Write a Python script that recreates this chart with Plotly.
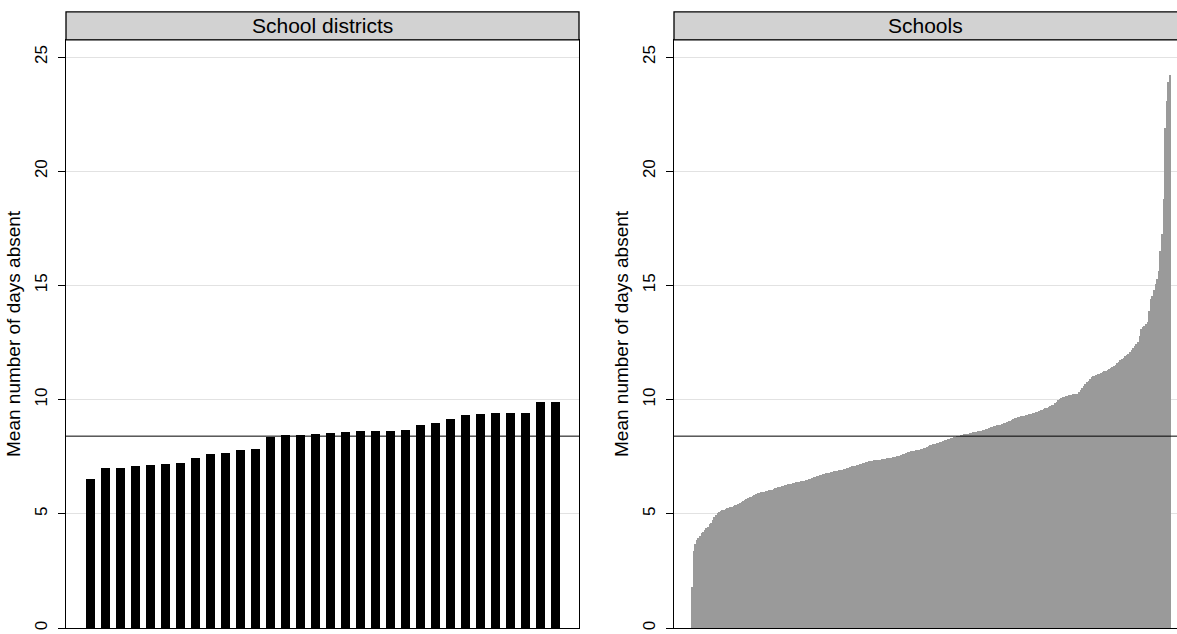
import plotly.graph_objects as go

# ---- data ----
district_values = [6.52, 7.01, 7.01, 7.11, 7.14, 7.20, 7.23, 7.45, 7.62, 7.69, 7.78, 7.85,
                   8.39, 8.45, 8.45, 8.51, 8.55, 8.59, 8.62, 8.62, 8.65, 8.68, 8.88, 9.00,
                   9.16, 9.35, 9.39, 9.42, 9.42, 9.42, 9.90, 9.90]

school_values = [
    1.8, 3.36, 3.7, 3.87, 3.95, 4.05, 4.15, 4.23, 4.3, 4.38,
    4.45, 4.55, 4.62, 4.75, 4.88, 4.96, 5.02, 5.1, 5.13, 5.16,
    5.19, 5.22, 5.25, 5.28, 5.3, 5.32, 5.35, 5.37, 5.4, 5.44,
    5.48, 5.52, 5.57, 5.62, 5.66, 5.7, 5.73, 5.76, 5.79, 5.82,
    5.86, 5.9, 5.92, 5.94, 5.96, 5.98, 6.0, 6.02, 6.03, 6.05,
    6.07, 6.1, 6.12, 6.15, 6.17, 6.19, 6.22, 6.24, 6.26, 6.28,
    6.29, 6.31, 6.33, 6.35, 6.37, 6.38, 6.4, 6.41, 6.43, 6.44,
    6.46, 6.48, 6.5, 6.52, 6.53, 6.56, 6.6, 6.63, 6.66, 6.68,
    6.7, 6.72, 6.74, 6.76, 6.78, 6.8, 6.81, 6.83, 6.85, 6.86,
    6.88, 6.9, 6.91, 6.93, 6.94, 6.95, 6.98, 7.01, 7.03, 7.05,
    7.08, 7.1, 7.12, 7.14, 7.16, 7.18, 7.2, 7.22, 7.25, 7.27,
    7.29, 7.31, 7.32, 7.33, 7.34, 7.35, 7.36, 7.37, 7.38, 7.4,
    7.41, 7.42, 7.43, 7.44, 7.46, 7.47, 7.48, 7.5, 7.52, 7.53,
    7.55, 7.58, 7.61, 7.64, 7.67, 7.7, 7.72, 7.74, 7.75, 7.77,
    7.78, 7.8, 7.82, 7.84, 7.86, 7.87, 7.9, 7.93, 7.97, 8.01,
    8.03, 8.05, 8.07, 8.09, 8.11, 8.13, 8.16, 8.19, 8.22, 8.25,
    8.28, 8.3, 8.32, 8.34, 8.36, 8.38, 8.4, 8.42, 8.45, 8.46,
    8.48, 8.49, 8.51, 8.52, 8.53, 8.55, 8.57, 8.58, 8.6, 8.61,
    8.62, 8.64, 8.66, 8.68, 8.7, 8.73, 8.76, 8.79, 8.82, 8.84,
    8.86, 8.88, 8.9, 8.91, 8.94, 8.97, 9.0, 9.03, 9.06, 9.09,
    9.12, 9.15, 9.18, 9.2, 9.23, 9.25, 9.27, 9.29, 9.31, 9.33,
    9.35, 9.37, 9.39, 9.41, 9.43, 9.45, 9.48, 9.51, 9.54, 9.56,
    9.59, 9.62, 9.65, 9.68, 9.72, 9.76, 9.79, 9.85, 9.92, 9.98,
    10.04, 10.09, 10.12, 10.14, 10.16, 10.18, 10.2, 10.21, 10.23, 10.24,
    10.26, 10.27, 10.35, 10.43, 10.52, 10.6, 10.68, 10.76, 10.84, 10.92,
    10.98, 11.02, 11.06, 11.1, 11.12, 11.14, 11.17, 11.2, 11.24, 11.28,
    11.32, 11.36, 11.4, 11.43, 11.48, 11.54, 11.6, 11.66, 11.72, 11.78,
    11.84, 11.9, 11.96, 12.02, 12.08, 12.16, 12.25, 12.34, 12.43, 12.52,
    12.8, 13.1, 13.2, 13.25, 13.3, 13.4, 13.9, 14.4, 14.55, 14.8,
    15.06, 15.3, 15.64, 16.5, 17.24, 18.77, 21.9, 23.06, 23.9, 24.2,
]

overall_mean = 8.4
panel_titles = ["School districts", "Schools"]
y_ticks = [0, 5, 10, 15, 20, 25]
y_title = "Mean number of days absent"

district_x = list(range(1, len(district_values) + 1))
school_x = list(range(1, len(school_values) + 1))

W, H = 1177, 634
FONT = "Liberation Sans, Arial, sans-serif"

fig = go.Figure()
fig.add_trace(go.Bar(x=district_x, y=district_values, width=0.6,
                     marker=dict(color="black", line=dict(width=0)),
                     xaxis="x", yaxis="y", showlegend=False))
fig.add_trace(go.Bar(x=school_x, y=school_values, width=0.55,
                     marker=dict(color="#9a9a9a", line=dict(width=0)),
                     xaxis="x2", yaxis="y2", showlegend=False))

ydom = [1 - 630 / H, 1 - 40 / H]
left_dom = [66 / W, 579 / W]
right_dom = [674 / W, 1.0]

yax = dict(range=[0, 25.75], tickvals=y_ticks, tickangle=-90,
           showgrid=True, gridcolor="#e2e2e2", gridwidth=1,
           showline=True, linecolor="black", linewidth=1,
           ticks="outside", ticklen=7, tickcolor="black", tickwidth=1,
           tickfont=dict(family=FONT, size=17, color="black"),
           ticklabelstandoff=4, zeroline=False,
           title=dict(text=y_title, font=dict(family=FONT, size=19, color="black"),
                      standoff=6),
           domain=ydom)
xax = dict(showticklabels=False, ticks="", showgrid=False, zeroline=False,
           showline=True, linecolor="black", linewidth=1, mirror=True)

fig.update_layout(
    width=W, height=H,
    margin=dict(l=0, r=0, t=0, b=0),
    paper_bgcolor="white", plot_bgcolor="white",
    bargap=0,
    xaxis=dict(xax, domain=left_dom, range=[-0.6, 33.6]),
    yaxis=dict(yax, anchor="x", mirror=True),
    xaxis2=dict(xax, domain=right_dom, range=[-10.25, 304.4], anchor="y2"),
    yaxis2=dict(yax, anchor="x2", mirror=False),
)

# reference lines at overall mean
for xr, yr in [("x", "y"), ("x2", "y2")]:
    fig.add_shape(type="line", xref=f"{xr} domain", yref=yr, x0=0, x1=1,
                  y0=overall_mean, y1=overall_mean,
                  line=dict(color="black", width=1))

# header strips
for dom, title in [(left_dom, panel_titles[0]), (right_dom, panel_titles[1])]:
    fig.add_shape(type="rect", xref="paper", yref="paper",
                  x0=dom[0], x1=dom[1] + (0.01 if dom[1] >= 1 else 0),
                  y0=1 - 40 / H, y1=1 - 12 / H,
                  fillcolor="#d2d2d2", line=dict(color="black", width=1.3))
    fig.add_annotation(xref="paper", yref="paper", x=(dom[0] + dom[1]) / 2,
                       y=1 - 26 / H, text=title, showarrow=False,
                       font=dict(family=FONT, size=21, color="black"),
                       xanchor="center", yanchor="middle")

fig.write_html("out.html", config={"displayModeBar": False},
               post_script="document.body.style.margin='0';document.body.style.overflow='hidden';")
